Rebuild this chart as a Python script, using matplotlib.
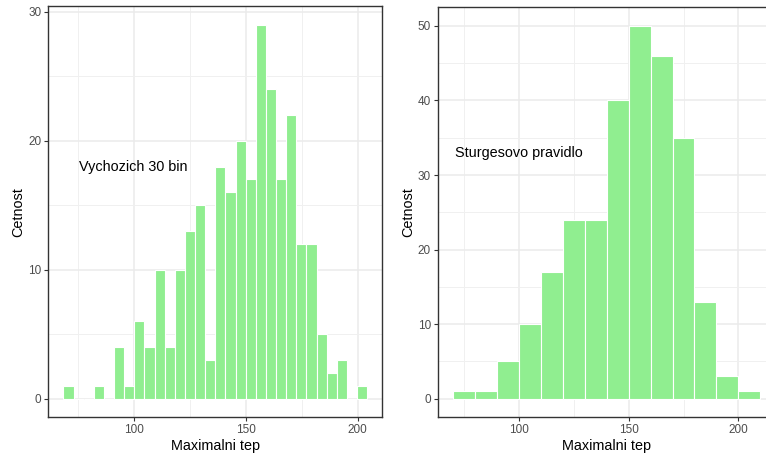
import matplotlib
matplotlib.use("Agg")
import matplotlib.pyplot as plt
import numpy as np
from matplotlib.ticker import MultipleLocator

plt.rcParams['font.family'] = ['Liberation Sans', 'DejaVu Sans']

# Left histogram: 30 bins from min 71 to max 202 (bin centers)
left_min, left_max, left_nbins = 71, 202, 30
left_counts = [1, 0, 0, 1, 0, 4, 1, 6, 4, 10, 4, 10, 13, 15, 3, 18, 16, 20, 17, 29,
               24, 17, 22, 12, 12, 5, 2, 3, 0, 1]

# Right histogram: Sturges bins of width 10 starting at 70
right_start, right_width = 70, 10
right_counts = [1, 1, 5, 10, 17, 24, 24, 40, 50, 46, 35, 13, 3, 1]

xlabel = "Maximalni tep"
ylabel = "Cetnost"
left_label = "Vychozich 30 bin"
right_label = "Sturgesovo pravidlo"

fill = "#90EE90"
W, H = 766, 455
fig = plt.figure(figsize=(W / 100, H / 100), dpi=100)

def px_axes(x0, x1, ytop, ybot):
    return fig.add_axes([x0 / W, (H - ybot) / H, (x1 - x0) / W, (ybot - ytop) / H])

def style(ax, ymajor):
    ax.set_facecolor("white")
    for s in ax.spines.values():
        s.set_color("#333333")
        s.set_linewidth(1.0)
    ax.xaxis.set_major_locator(MultipleLocator(50))
    ax.xaxis.set_minor_locator(MultipleLocator(25))
    ax.yaxis.set_major_locator(MultipleLocator(ymajor))
    ax.yaxis.set_minor_locator(MultipleLocator(ymajor / 2))
    ax.grid(True, which="major", color="#EBEBEB", linewidth=1.1)
    ax.grid(True, which="minor", color="#F0F0F0", linewidth=0.7)
    ax.set_axisbelow(True)
    ax.tick_params(which="major", length=3, width=0.8, color="#333333",
                   labelcolor="#4D4D4D", labelsize=8.5, pad=2)
    ax.tick_params(which="minor", length=0)
    ax.set_xlabel(xlabel, fontsize=10.4, color="black", labelpad=2)
    ax.set_ylabel(ylabel, fontsize=10.4, color="black", labelpad=2)

# Left
axL = px_axes(48.3, 382.3, 6, 417.3)
lw = (left_max - left_min) / (left_nbins - 1)
lcenters = left_min + lw * np.arange(left_nbins)
axL.bar(lcenters, left_counts, width=lw, color=fill, edgecolor="white", linewidth=0.8, zorder=2)
lo = left_min - lw / 2
hi = left_max + lw / 2
pad = (hi - lo) * 0.05
axL.set_xlim(lo - pad, hi + pad)
ymax = max(left_counts)
axL.set_ylim(-ymax * 0.05, ymax * 1.05)
style(axL, 10)
axL.text(100, 18, left_label, ha="center", va="center", fontsize=10.4, color="black")

# Right
axR = px_axes(438.0, 775.6, 7.3, 417.3)
redges = right_start + right_width * np.arange(len(right_counts) + 1)
axR.bar(redges[:-1], right_counts, width=right_width, align="edge", color=fill,
        edgecolor="white", linewidth=0.8, zorder=2)
pad = (redges[-1] - redges[0]) * 0.05
axR.set_xlim(redges[0] - pad, redges[-1] + pad)
ymax = max(right_counts)
axR.set_ylim(-ymax * 0.05, ymax * 1.05)
style(axR, 10)
axR.yaxis.set_minor_locator(MultipleLocator(5))
axR.text(100, 33, right_label, ha="center", va="center", fontsize=10.4, color="black")

fig.savefig("out.png", dpi=100)
